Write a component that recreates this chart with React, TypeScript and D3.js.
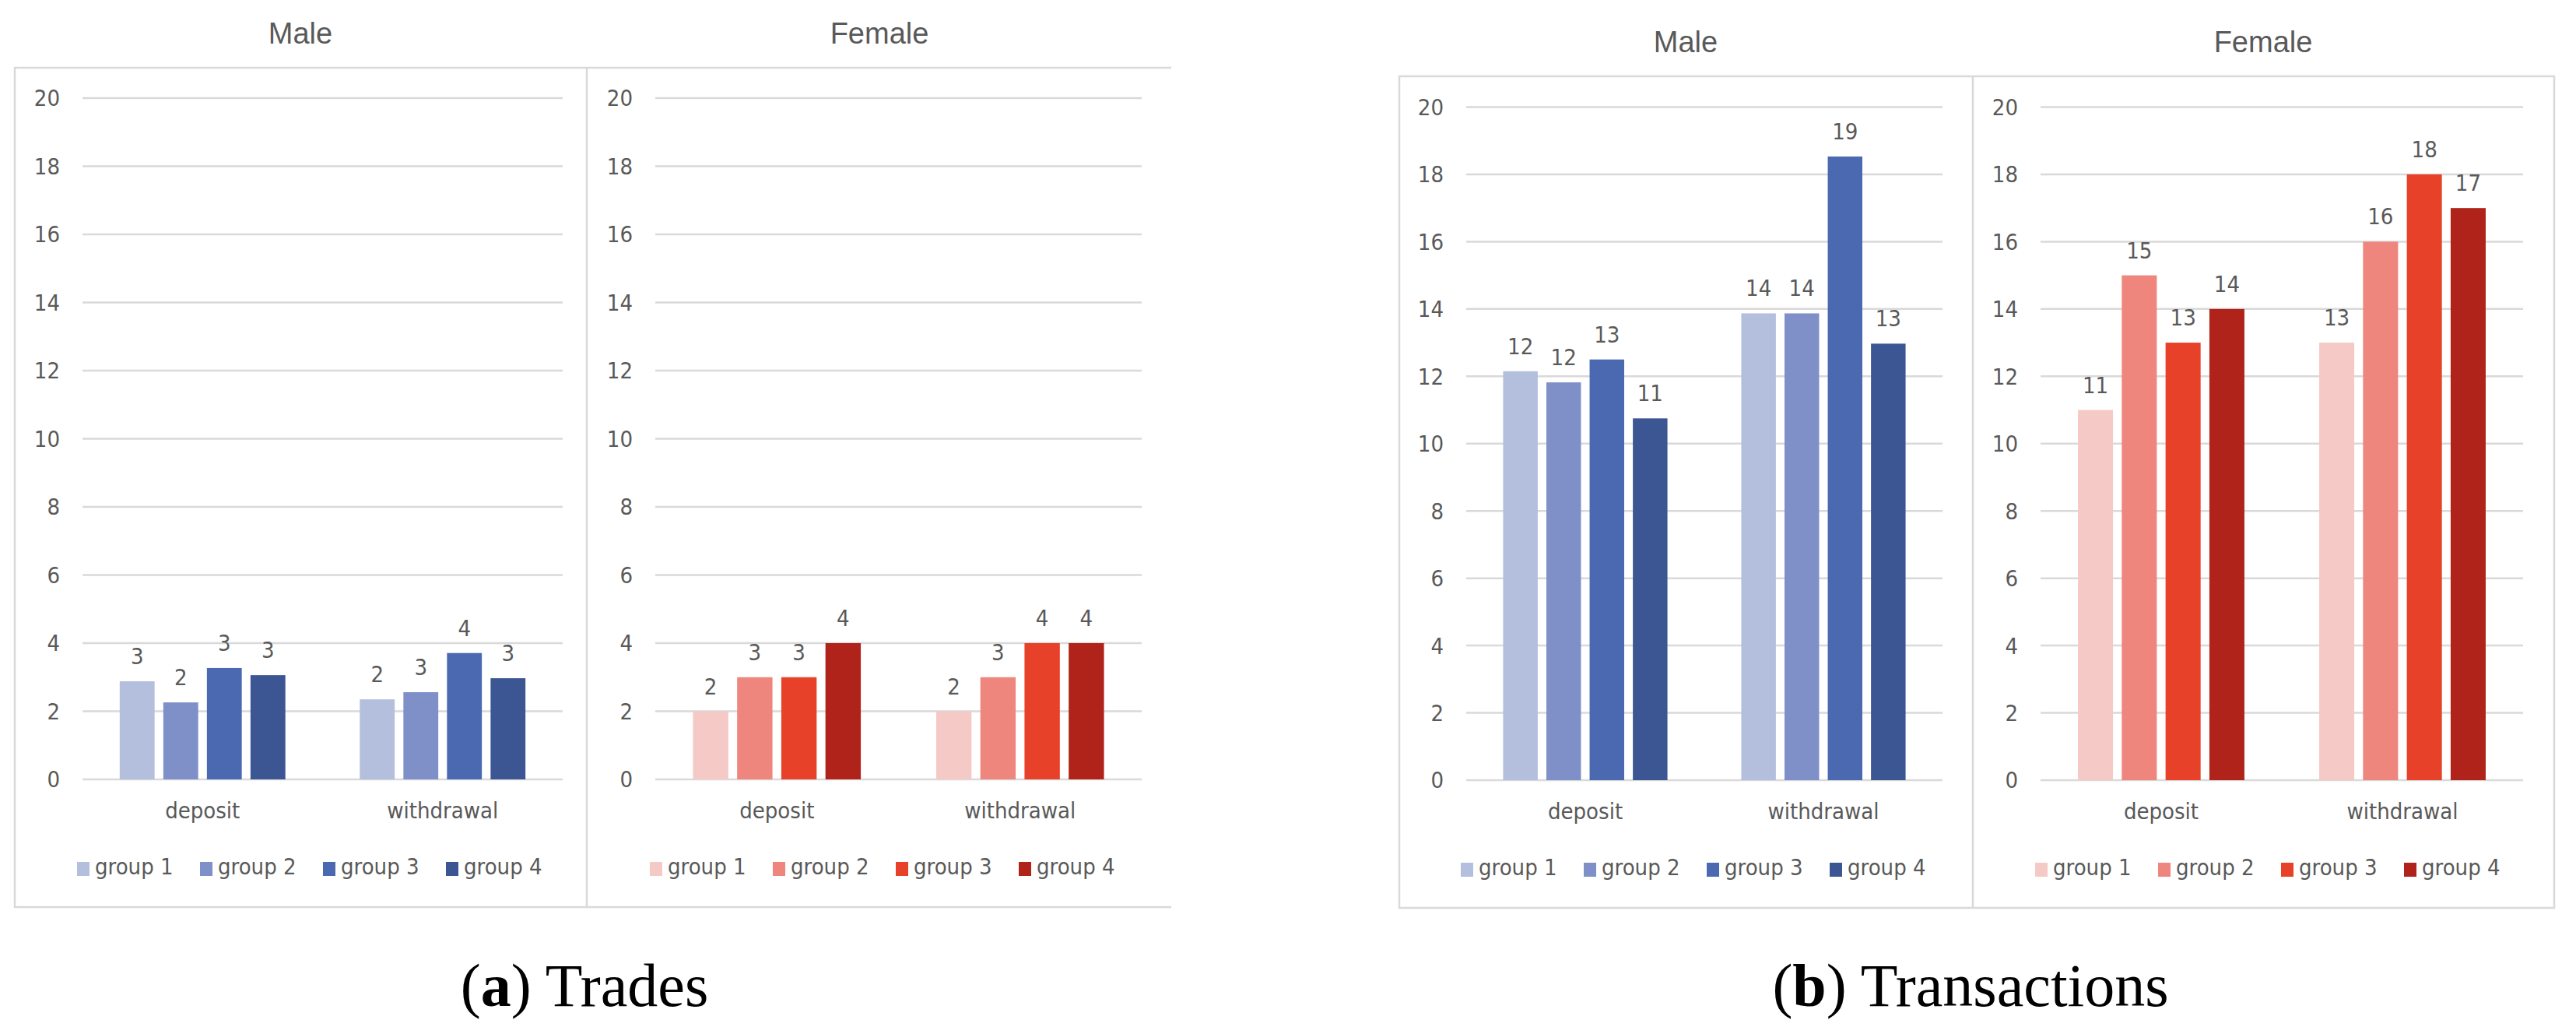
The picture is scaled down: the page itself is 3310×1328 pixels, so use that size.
import React from 'react';
import * as d3 from 'd3';

// categories and series
const categories = ['deposit', 'withdrawal'];
const groups = ['group 1', 'group 2', 'group 3', 'group 4'];
const yTickValues = [0, 2, 4, 6, 8, 10, 12, 14, 16, 18, 20];

// (a) Trades
const tradesMaleDeposit = [2.88, 2.26, 3.27, 3.06];
const tradesMaleWithdrawal = [2.35, 2.56, 3.71, 2.97];
const tradesFemaleDeposit = [2, 3, 3, 4];
const tradesFemaleWithdrawal = [2, 3, 4, 4];

// (b) Transactions
const txMaleDeposit = [12.15, 11.82, 12.5, 10.75];
const txMaleWithdrawal = [13.87, 13.87, 18.53, 12.97];
const txFemaleDeposit = [11, 15, 13, 14];
const txFemaleWithdrawal = [13, 16, 18, 17];

const blues = ['#b4bedd', '#7f8fc8', '#4a69b0', '#3c5694'];
const reds = ['#f5cac6', '#ef867d', '#e84129', '#b0231a'];

const GRID = '#d9d9d9';
const TEXT = '#595959';
const LABEL_FONT = '"Liberation Sans Narrow", "DejaVu Sans Condensed", "Roboto", sans-serif';
const TITLE_FONT = '"Liberation Sans", Arial, sans-serif';

interface PanelProps {
  title: string;
  titleX: number;
  titleY: number;
  plotLeft: number;
  plotRight: number;
  yTop: number;
  yBottom: number;
  deposit: number[];
  withdrawal: number[];
  colors: string[];
}

const Panel: React.FC<PanelProps> = ({
  title, titleX, titleY, plotLeft, plotRight, yTop, yBottom, deposit, withdrawal, colors,
}) => {
  const y = d3.scaleLinear().domain([0, 20]).range([yBottom, yTop]);
  const x0 = d3.scaleBand<string>()
    .domain(categories)
    .range([plotLeft, plotRight])
    .paddingInner(0.31)
    .paddingOuter(0.155);
  const x1 = d3.scaleBand<string>()
    .domain(groups)
    .range([0, x0.bandwidth()])
    .paddingInner(0.2);

  const series = [deposit, withdrawal];
  const legendStep = 158;

  return (
    <g>
      <text x={titleX} y={titleY} textAnchor="middle" fill={TEXT}
        style={{ fontFamily: TITLE_FONT, fontSize: 38 }}>{title}</text>

      {/* gridlines and y labels */}
      {yTickValues.map(t => (
        <g key={t}>
          <line x1={plotLeft} x2={plotRight} y1={y(t)} y2={y(t)} stroke={GRID} strokeWidth={2.5} />
          <text x={plotLeft - 29} y={y(t)} dy="0.36em" textAnchor="end" fill={TEXT}
            style={{ fontFamily: LABEL_FONT, fontSize: 29 }}>{t}</text>
        </g>
      ))}

      {/* bars */}
      {categories.map((c, ci) => (
        <g key={c} transform={`translate(${x0(c)},0)`}>
          {groups.map((g, gi) => {
            const v = series[ci][gi];
            return (
              <g key={g}>
                <rect x={x1(g)} y={y(v)} width={x1.bandwidth()} height={y(0) - y(v)} fill={colors[gi]} />
                <text x={(x1(g) || 0) + x1.bandwidth() / 2} y={y(v) - 22} textAnchor="middle" fill={TEXT}
                  style={{ fontFamily: LABEL_FONT, fontSize: 29 }}>{Math.round(v)}</text>
              </g>
            );
          })}
          <text x={x0.bandwidth() / 2} y={yBottom + 50} textAnchor="middle" fill={TEXT}
            style={{ fontFamily: LABEL_FONT, fontSize: 29 }}>{c}</text>
        </g>
      ))}

      {/* legend */}
      {groups.map((g, gi) => (
        <g key={g} transform={`translate(${plotLeft - 7 + gi * legendStep},${yBottom + 106})`}>
          <rect x={0} y={0} width={16} height={18} fill={colors[gi]} />
          <text x={23} y={16} fill={TEXT} style={{ fontFamily: LABEL_FONT, fontSize: 29 }}>{g}</text>
        </g>
      ))}
    </g>
  );
};

const App: React.FC = () => {
  return (
    <svg width={3310} height={1328} style={{ position: 'absolute', left: 0, top: 0, background: '#fff' }}>
      <rect x={0} y={0} width={3310} height={1328} fill="#fff" />

      {/* (a) Trades frame: no right border */}
      <path d="M1505,87 H19 V1165 H1505" fill="none" stroke={GRID} strokeWidth={2.5} />
      <line x1={754} x2={754} y1={87} y2={1165} stroke={GRID} strokeWidth={2.5} />
      <Panel title="Male" titleX={386} titleY={56} plotLeft={106} plotRight={723} yTop={126} yBottom={1001}
        deposit={tradesMaleDeposit} withdrawal={tradesMaleWithdrawal} colors={blues} />
      <Panel title="Female" titleX={1130} titleY={56} plotLeft={842} plotRight={1467} yTop={126} yBottom={1001}
        deposit={tradesFemaleDeposit} withdrawal={tradesFemaleWithdrawal} colors={reds} />

      {/* (b) Transactions frame */}
      <rect x={1798} y={98} width={1484} height={1068} fill="none" stroke={GRID} strokeWidth={2.5} />
      <line x1={2535} x2={2535} y1={98} y2={1166} stroke={GRID} strokeWidth={2.5} />
      <Panel title="Male" titleX={2166} titleY={67} plotLeft={1884} plotRight={2496} yTop={137.5} yBottom={1002}
        deposit={txMaleDeposit} withdrawal={txMaleWithdrawal} colors={blues} />
      <Panel title="Female" titleX={2908} titleY={67} plotLeft={2622} plotRight={3242} yTop={137.5} yBottom={1002}
        deposit={txFemaleDeposit} withdrawal={txFemaleWithdrawal} colors={reds} />

      {/* captions */}
      <text x={751} y={1292} textAnchor="middle" fill="#000"
        style={{ fontFamily: '"Liberation Serif", "DejaVu Serif", serif', fontSize: 78 }}>
        (<tspan fontWeight="bold">a</tspan>) Trades
      </text>
      <text x={2532} y={1292} textAnchor="middle" fill="#000"
        style={{ fontFamily: '"Liberation Serif", "DejaVu Serif", serif', fontSize: 78 }}>
        (<tspan fontWeight="bold">b</tspan>) Transactions
      </text>
    </svg>
  );
};

export default App;
